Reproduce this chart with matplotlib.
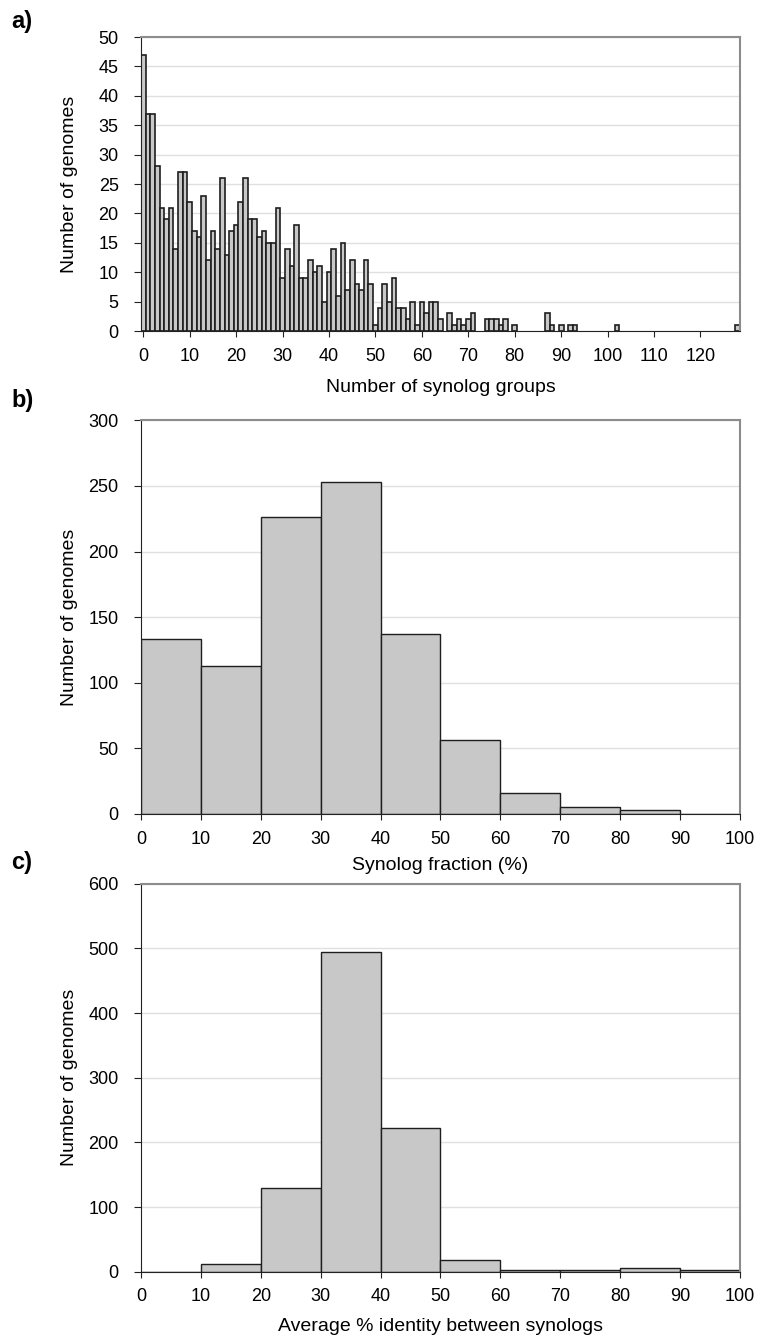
import numpy as np
import matplotlib
matplotlib.use("Agg")
import matplotlib.pyplot as plt

plt.rcParams['font.family'] = ['Liberation Sans', 'DejaVu Sans']

# a) number of genomes per count of synolog groups (categories 0..128)
synolog_groups = np.arange(129)
genomes_a = np.array([
    47, 37, 37, 28, 21, 19, 21, 14, 27, 27,
    22, 17, 16, 23, 12, 17, 14, 26, 13, 17,
    18, 22, 26, 19, 19, 16, 17, 15, 15, 21,
    9, 14, 11, 18, 9, 9, 12, 10, 11, 5,
    10, 14, 6, 15, 7, 12, 8, 7, 12, 8,
    1, 4, 8, 5, 9, 4, 4, 2, 5, 1,
    5, 3, 5, 5, 2, 0, 3, 1, 2, 1,
    2, 3, 0, 0, 2, 2, 2, 1, 2, 0,
    1, 0, 0, 0, 0, 0, 0, 3, 1, 0,
    1, 0, 1, 1, 0, 0, 0, 0, 0, 0,
    0, 0, 1, 0, 0, 0, 0, 0, 0, 0,
    0, 0, 0, 0, 0, 0, 0, 0, 0, 0,
    0, 0, 0, 0, 0, 0, 0, 0, 1])

# b) synolog fraction (%) histogram, bins of 10
fraction_bins = np.arange(0, 100, 10)
genomes_b = [133, 113, 226, 253, 137, 56, 16, 5, 3, 0]

# c) average % identity between synologs, bins of 10
identity_bins = np.arange(0, 100, 10)
genomes_c = [0, 12, 130, 494, 222, 19, 3, 3, 6, 3]

bar_face = '#c8c8c8'
bar_edge = '#1e1e1e'
grid_col = '#e0e0e0'


def style_axes(ax):
    ax.set_axisbelow(True)
    ax.yaxis.grid(True, color=grid_col, linewidth=1.0)
    ax.spines['top'].set_color('#8c8c8c')
    ax.spines['right'].set_color('#8c8c8c')
    ax.spines['top'].set_linewidth(1.5)
    ax.spines['right'].set_linewidth(1.5)
    ax.spines['left'].set_color('#222222')
    ax.spines['bottom'].set_color('#222222')
    ax.tick_params(axis='both', labelsize=13, direction='out', length=4, color='#222222')
    ax.tick_params(axis='x', pad=8)
    ax.tick_params(axis='y', length=5, pad=11)
    ax.set_ylabel('Number of genomes', fontsize=14)
    ax.yaxis.set_label_coords(-0.105, 0.5)


fig = plt.figure(figsize=(7.72, 13.43), dpi=100)

# panel a
ax_a = fig.add_axes([0.1826, 0.7535, 0.7759, 0.2189])
mask = genomes_a > 0
ax_a.bar(synolog_groups[mask], genomes_a[mask], width=1.0, color=bar_face,
         edgecolor=bar_edge, linewidth=1.2)
ax_a.set_xlim(-0.5, 128.5)
ax_a.set_ylim(0, 50)
ax_a.set_yticks(np.arange(0, 51, 5))
ax_a.set_xticks(np.arange(0, 121, 10))
ax_a.set_xlabel('Number of synolog groups', fontsize=14, labelpad=10)
style_axes(ax_a)
fig.text(0.015, 0.984, 'a)', fontsize=17, fontweight='bold', va='center')

# panel b
ax_b = fig.add_axes([0.1826, 0.394, 0.7759, 0.293])
ax_b.bar(fraction_bins, genomes_b, width=10, align='edge', color=bar_face,
         edgecolor=bar_edge, linewidth=1.0)
ax_b.set_xlim(0, 100)
ax_b.set_ylim(0, 300)
ax_b.set_yticks(np.arange(0, 301, 50))
ax_b.set_xticks(np.arange(0, 101, 10))
ax_b.set_xlabel('Synolog fraction (%)', fontsize=14, labelpad=7)
style_axes(ax_b)
fig.text(0.015, 0.702, 'b)', fontsize=17, fontweight='bold', va='center')

# panel c
ax_c = fig.add_axes([0.1826, 0.053, 0.7759, 0.289])
ax_c.bar(identity_bins, genomes_c, width=10, align='edge', color=bar_face,
         edgecolor=bar_edge, linewidth=1.0)
ax_c.set_xlim(0, 100)
ax_c.set_ylim(0, 600)
ax_c.set_yticks(np.arange(0, 601, 100))
ax_c.set_xticks(np.arange(0, 101, 10))
ax_c.set_xlabel('Average % identity between synologs', fontsize=14, labelpad=9)
style_axes(ax_c)
fig.text(0.015, 0.358, 'c)', fontsize=17, fontweight='bold', va='center')

fig.savefig('out.png', dpi=100)
